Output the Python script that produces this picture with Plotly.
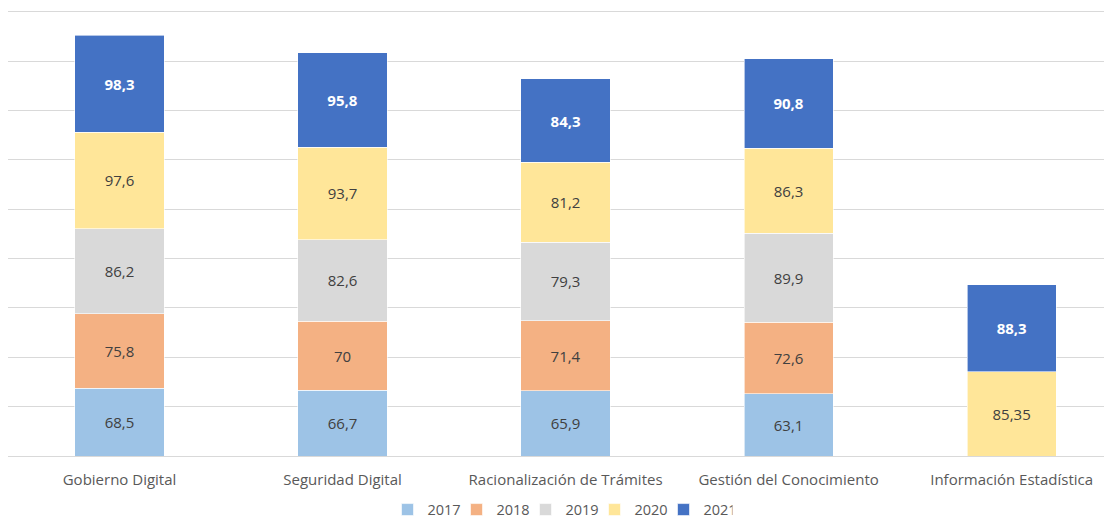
import plotly.graph_objects as go

categories = ["Gobierno Digital", "Seguridad Digital", "Racionalización de Trámites",
              "Gestión del Conocimiento", "Información Estadística"]
years = ["2017", "2018", "2019", "2020", "2021"]
v2017 = [68.5, 66.7, 65.9, 63.1, None]
v2018 = [75.8, 70, 71.4, 72.6, None]
v2019 = [86.2, 82.6, 79.3, 89.9, None]
v2020 = [97.6, 93.7, 81.2, 86.3, 85.35]
v2021 = [98.3, 95.8, 84.3, 90.8, 88.3]
colors = ["#9DC3E6", "#F4B183", "#D9D9D9", "#FFE699", "#4472C4"]

def fmt(v):
    if v is None:
        return ""
    return f"{v:g}".replace(".", ",")

fig = go.Figure()
for year, vals, col in zip(years, [v2017, v2018, v2019, v2020, v2021], colors):
    last = year == "2021"
    fig.add_trace(go.Bar(
        x=categories, y=vals, name=year,
        marker=dict(color=col, line=dict(color="white", width=0.6)),
        text=[fmt(v) for v in vals], textposition="inside", insidetextanchor="middle",
        textfont=dict(color="white" if last else "#404040", size=15, family="Open Sans"),
        texttemplate="<b>%{text}</b>" if last else "%{text}",
        width=0.4,
    ))

# page body has an 8px margin, so the figure is a bit smaller than the window
fig.update_layout(
    barmode="stack",
    width=1104, height=511,
    margin=dict(l=0, r=0, t=1, b=63, autoexpand=False),
    plot_bgcolor="white", paper_bgcolor="white",
    font=dict(family="Open Sans", color="#595959", size=15),
    showlegend=True,
    legend=dict(orientation="h", x=0.5, xanchor="center", y=-0.12, yanchor="middle",
                font=dict(size=14.5, color="#595959"), traceorder="normal",
                itemwidth=30, entrywidth=24, entrywidthmode="pixels"),
    xaxis=dict(range=[-0.5, 4.45], showgrid=False, showline=True, linecolor="#d9d9d9",
               tickfont=dict(size=15, color="#595959"), ticks="", automargin=False,
               ticklabelstandoff=10),
    yaxis=dict(range=[0, 453], dtick=50, showgrid=True, gridcolor="#d9d9d9",
               showticklabels=False, zeroline=False, automargin=False),
)

fig.write_html("out.html")
